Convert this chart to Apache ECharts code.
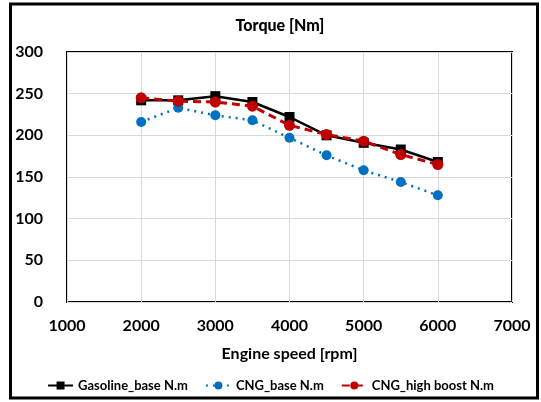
<!DOCTYPE html>
<html>
<head>
<meta charset="utf-8">
<script src="https://cdn.jsdelivr.net/npm/echarts@6/dist/echarts.min.js"></script>
<style>
  html, body { margin: 0; padding: 0; background: #fff; }
  #chart { width: 541px; height: 402px; }
</style>
</head>
<body>
<div id="chart"></div>
<script>
// engine speed points [rpm]
const rpm = [2000, 2500, 3000, 3500, 4000, 4500, 5000, 5500, 6000];
// torque [Nm]
const gasolineBase = [242, 242, 247, 240, 222, 200, 191, 183, 168];
const cngBase = [216, 233, 224, 218, 197, 176, 158, 144, 128];
const cngHighBoost = [245, 241, 240, 235, 212, 201, 193, 177, 165];
const seriesNames = ['Gasoline_base N.m', 'CNG_base N.m', 'CNG_high boost N.m'];
const yTicks = [0, 50, 100, 150, 200, 250, 300];
const xTicks = [1000, 2000, 3000, 4000, 5000, 6000, 7000];

const font = 'Lato, "Open Sans", sans-serif';
const pairs = arr => rpm.map((r, i) => [r, arr[i]]);

const myChart = echarts.init(document.getElementById('chart'));
const option = {
  animation: false,
  textStyle: { fontFamily: font },
  title: {
    text: 'Torque [Nm]',
    left: 275,
    textAlign: 'center',
    top: 13,
    textStyle: { fontSize: 16, fontWeight: 900, color: '#000', fontFamily: font }
  },
  grid: {
    left: 67, right: 29, top: 52, bottom: 100,
    show: true,
    borderColor: '#000',
    borderWidth: 2
  },
  legend: {
    bottom: 5,
    left: 'center',
    itemWidth: 25,
    itemHeight: 10,
    itemGap: 17,
    textStyle: { fontSize: 13, fontWeight: 'bold', color: '#000', fontFamily: font },
    data: seriesNames
  },
  xAxis: {
    type: 'value',
    min: xTicks[0],
    max: xTicks[xTicks.length - 1],
    interval: 1000,
    name: 'Engine speed [rpm]',
    nameLocation: 'middle',
    nameGap: 44,
    nameTextStyle: { fontSize: 16, fontWeight: 'bold', color: '#000' },
    axisLine: { show: false },
    axisTick: { show: false },
    axisLabel: {
      fontSize: 16, fontWeight: 'bold', color: '#000', margin: 16,
      formatter: v => String(v)
    },
    splitLine: { lineStyle: { color: '#d9d9d9', width: 1 } }
  },
  yAxis: {
    type: 'value',
    min: yTicks[0],
    max: yTicks[yTicks.length - 1],
    interval: 50,
    axisLine: { show: false },
    axisTick: { show: false },
    axisLabel: { fontSize: 16, fontWeight: 'bold', color: '#000', margin: 24 },
    splitLine: { lineStyle: { color: '#d9d9d9', width: 1 } }
  },
  series: [
    {
      name: seriesNames[0],
      type: 'line',
      data: pairs(gasolineBase),
      symbol: 'rect',
      symbolSize: 10,
      lineStyle: { color: '#000', width: 2.5, type: 'solid' },
      itemStyle: { color: '#000' }
    },
    {
      name: seriesNames[1],
      type: 'line',
      data: pairs(cngBase),
      symbol: 'circle',
      symbolSize: 10,
      lineStyle: { color: '#0070c0', width: 2.5, type: [2, 5] },
      itemStyle: { color: '#0070c0' }
    },
    {
      name: seriesNames[2],
      type: 'line',
      data: pairs(cngHighBoost),
      symbol: 'circle',
      symbolSize: 11,
      lineStyle: { color: '#c00000', width: 3, type: [8, 5] },
      itemStyle: { color: '#c00000' }
    }
  ],
  graphic: [
    {
      type: 'rect',
      shape: { x: 10.5, y: 4, width: 527, height: 394 },
      style: { fill: 'none', stroke: '#000', lineWidth: 3 },
      silent: true
    }
  ]
};
myChart.setOption(option);
</script>
</body>
</html>
